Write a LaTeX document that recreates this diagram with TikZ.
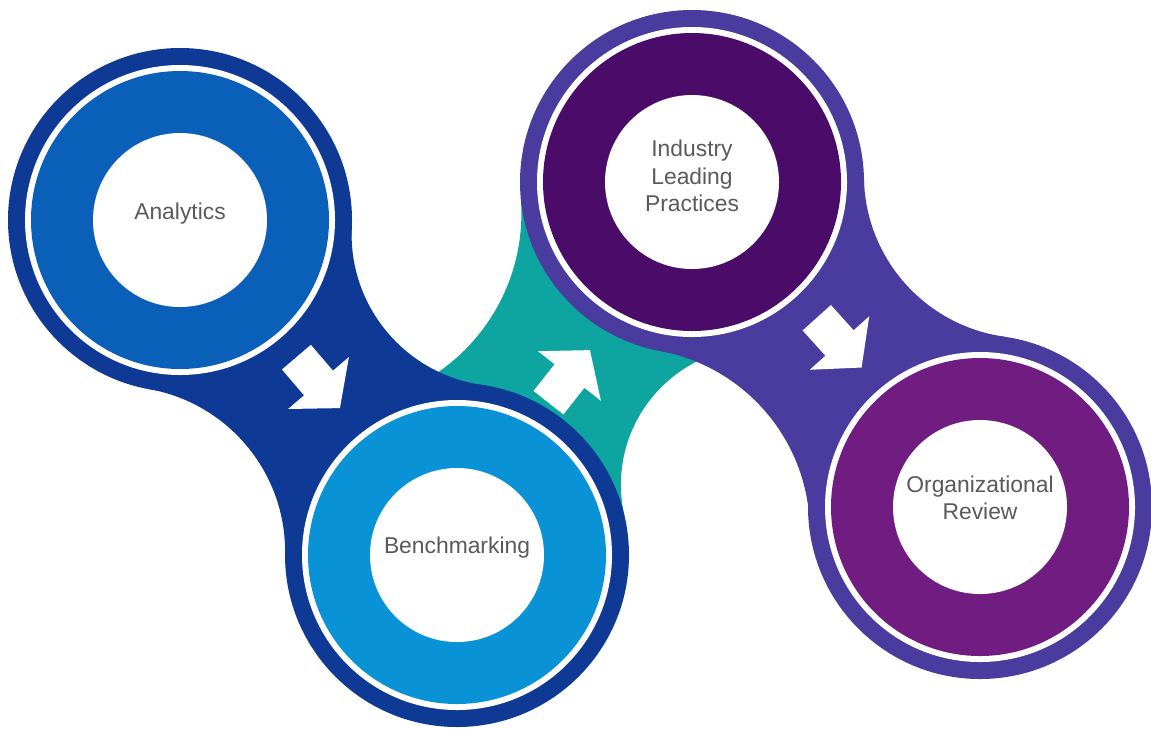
\documentclass[tikz,border=0pt]{standalone}
\usepackage{fontspec}
\setmainfont{Liberation Sans}
\definecolor{mynavy}{HTML}{0E3A96}
\definecolor{bluering}{HTML}{0A60B8}
\definecolor{lightring}{HTML}{0A92D6}
\definecolor{tealbridge}{HTML}{0EA4A0}
\definecolor{violetouter}{HTML}{4A3B9F}
\definecolor{plumring}{HTML}{4B0C69}
\definecolor{magring}{HTML}{701C80}
\definecolor{txtgray}{HTML}{5A5A5A}
\newcommand{\mybridge}[7]{%
  \begin{scope}
    \clip (#2) -- (#3) -- (#4) -- (#5) -- cycle;
    \fill[#1, even odd rule] (-600,-600) rectangle (1800,1400)
      (#3) circle[radius=#6] (#5) circle[radius=#7];
  \end{scope}}
\newcommand{\myring}[3]{%
  \fill[#2] (#1) circle[radius=172];
  \fill[white] (#1) circle[radius=155];
  \fill[#3] (#1) circle[radius=149];
  \fill[white] (#1) circle[radius=87];}
\newcommand{\blockarrow}[2]{%
  \fill[white, shift={(#1)}, rotate=#2] (-34,-19) -- (0,-19) -- (0,-40) -- (33,0) -- (0,40) -- (0,19) -- (-34,19) -- cycle;}
\begin{document}
\begin{tikzpicture}[x=0.02cm,y=-0.02cm,
  lbl/.style={font=\fontsize{13}{15.5}\selectfont, text=txtgray, align=center, inner sep=0pt}]
\useasboundingbox (0,0) rectangle (1151,728);
% centres
\coordinate (c1) at (180,220);
\coordinate (c2) at (457,555);
\coordinate (c3) at (692,182);
\coordinate (c4) at (980,507);
% fillet centres
\coordinate (f12a) at (503.6,234.4);
\coordinate (f12b) at (120.1,551.6);
\coordinate (f23a) at (328.4,213.4);
\coordinate (f23b) at (758.9,484.7);
\coordinate (f34a) at (1026.9,175.2);
\coordinate (f34b) at (626.8,531.0);
% bridges
\mybridge{tealbridge}{c2}{f23a}{c3}{f23b}{193}{138}
\mybridge{mynavy}{c1}{f12a}{c2}{f12b}{152}{165}
\mybridge{violetouter}{c3}{f34a}{c4}{f34b}{163}{183}
% rings
\myring{c1}{mynavy}{bluering}
\myring{c2}{mynavy}{lightring}
\myring{c3}{violetouter}{plumring}
\myring{c4}{violetouter}{magring}
% arrows
\coordinate (a1) at (318.5,383);
\coordinate (a2) at (569.5,376);
\coordinate (a3) at (839.5,343);
\blockarrow{a1}{-49.5}
\blockarrow{a2}{51.7}
\blockarrow{a3}{-48}
% labels
\node[lbl] (t1) at (180,214) {Analytics};
\node[lbl] (t2) at (457,548) {Benchmarking};
\node[lbl] (t3) at (692,176) {Industry\\Leading\\Practices};
\node[lbl] (t4) at (980,498) {Organizational\\Review};
\end{tikzpicture}
\end{document}
